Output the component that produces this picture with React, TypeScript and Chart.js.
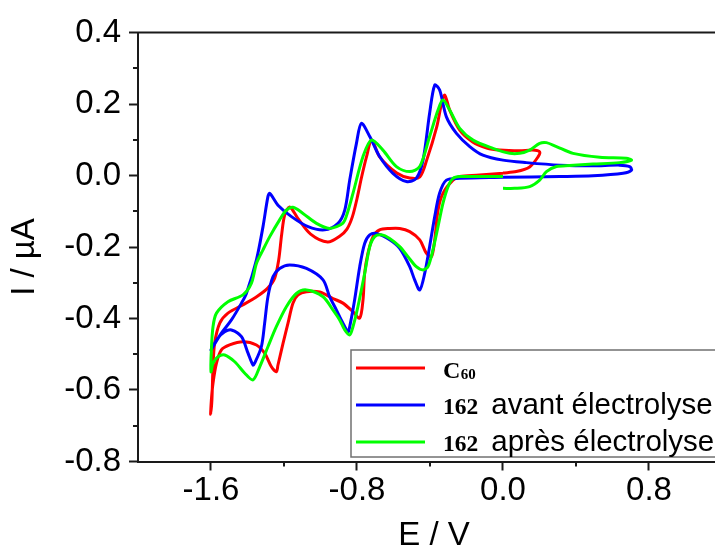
import React, { useEffect, useRef } from 'react';
import { Chart, registerables } from 'chart.js';

Chart.register(...registerables);

// ---- data (E / V, I / µA), in scan order ----
const redE = [
  0.0, -0.146, -0.237, -0.274, -0.329, -0.356, -0.374, -0.392, -0.42, -0.456, -0.511, -0.566, -0.621, -0.676,
  -0.712, -0.74, -0.758, -0.767, -0.785, -0.822, -0.877, -0.932, -1.004, -1.077, -1.123, -1.151, -1.178, -1.205,
  -1.233, -1.242, -1.269, -1.306, -1.351, -1.425, -1.498, -1.543, -1.57, -1.589, -1.598, -1.602,
  -1.595, -1.589, -1.58, -1.552, -1.507, -1.415, -1.344, -1.289, -1.251, -1.229, -1.213, -1.196, -1.169, -1.125,
  -1.054, -0.961, -0.895, -0.855, -0.825, -0.8, -0.775, -0.748, -0.719, -0.676, -0.582, -0.511, -0.456, -0.418,
  -0.363, -0.336, -0.319, -0.292, -0.237, -0.166, -0.089, -0.018, 0.092, 0.163, 0.201, 0.192, 0.146, 0.073, 0.0,
];
const redI = [
  0.006, 0.001, -0.003, -0.013, -0.05, -0.097, -0.18, -0.227, -0.217, -0.18, -0.157, -0.148, -0.148, -0.152,
  -0.171, -0.218, -0.274, -0.348, -0.399, -0.381, -0.357, -0.344, -0.326, -0.325, -0.334, -0.357, -0.413, -0.469,
  -0.53, -0.549, -0.535, -0.497, -0.474, -0.465, -0.474, -0.488, -0.525, -0.581, -0.628, -0.668,
  -0.628, -0.535, -0.469, -0.413, -0.385, -0.359, -0.337, -0.315, -0.287, -0.236, -0.166, -0.11, -0.088, -0.119,
  -0.164, -0.186, -0.17, -0.15, -0.115, -0.065, -0.005, 0.052, 0.099, 0.052, 0.007, -0.007, -0.004, 0.043,
  0.136, 0.203, 0.225, 0.183, 0.127, 0.094, 0.077, 0.071, 0.069, 0.071, 0.066, 0.052, 0.024, 0.011, 0.007,
];

const blueE = [
  0.0, -0.237, -0.31, -0.347, -0.374, -0.402, -0.429, -0.456, -0.484, -0.511, -0.566, -0.621, -0.694, -0.73,
  -0.758, -0.785, -0.813, -0.84, -0.849, -0.877, -0.913, -0.95, -0.986, -1.077, -1.169, -1.224, -1.26, -1.288,
  -1.306, -1.324, -1.361, -1.37, -1.397, -1.433, -1.488, -1.525, -1.562, -1.6,
  -1.543, -1.488, -1.433, -1.406, -1.351, -1.315, -1.288, -1.278, -1.233, -1.159, -1.068, -0.977, -0.904, -0.867,
  -0.84, -0.803, -0.776, -0.73, -0.676, -0.603, -0.529, -0.475, -0.438, -0.402, -0.374, -0.347, -0.31, -0.255,
  -0.182, -0.11, 0.0, 0.128, 0.311, 0.493, 0.639, 0.694, 0.704, 0.658, 0.493, 0.311, 0.0,
];
const blueI = [
  -0.005, -0.008, -0.013, -0.049, -0.115, -0.199, -0.274, -0.32, -0.292, -0.255, -0.204, -0.18, -0.162, -0.166,
  -0.19, -0.255, -0.348, -0.423, -0.437, -0.413, -0.376, -0.339, -0.292, -0.26, -0.25, -0.26, -0.283, -0.339,
  -0.413, -0.479, -0.525, -0.53, -0.497, -0.451, -0.432, -0.437, -0.455, -0.488,
  -0.441, -0.404, -0.357, -0.33, -0.236, -0.143, -0.059, -0.05, -0.083, -0.115, -0.143, -0.152, -0.134, -0.097,
  -0.013, 0.09, 0.146, 0.109, 0.053, 0.006, -0.017, -0.008, 0.043, 0.174, 0.253, 0.239, 0.164, 0.118,
  0.081, 0.057, 0.043, 0.036, 0.029, 0.027, 0.029, 0.025, 0.015, 0.006, -0.001, -0.003, -0.005,
];

const greenE = [
  0.0, -0.237, -0.274, -0.301, -0.329, -0.356, -0.384, -0.411, -0.438, -0.475, -0.521, -0.566, -0.621, -0.666,
  -0.703, -0.73, -0.758, -0.795, -0.822, -0.84, -0.867, -0.895, -0.932, -0.986, -1.077, -1.132, -1.187, -1.242,
  -1.288, -1.333, -1.37, -1.415, -1.47, -1.525, -1.562, -1.589, -1.6,
  -1.598, -1.589, -1.57, -1.507, -1.425, -1.379, -1.351, -1.315, -1.278, -1.224, -1.187, -1.151, -1.096, -1.022,
  -0.95, -0.877, -0.851, -0.822, -0.767, -0.721, -0.658, -0.584, -0.511, -0.456, -0.402, -0.356, -0.329, -0.292,
  -0.237, -0.164, -0.055, 0.037, 0.092, 0.146, 0.201, 0.238, 0.293, 0.384, 0.53, 0.676, 0.704, 0.639, 0.493,
  0.365, 0.293, 0.238, 0.201, 0.146, 0.064, 0.0,
];
const greenI = [
  -0.003, -0.003, -0.008, -0.031, -0.078, -0.143, -0.208, -0.255, -0.264, -0.255, -0.227, -0.199, -0.176, -0.166,
  -0.171, -0.199, -0.274, -0.367, -0.423, -0.446, -0.432, -0.404, -0.376, -0.339, -0.32, -0.33, -0.367, -0.423,
  -0.479, -0.535, -0.572, -0.553, -0.521, -0.502, -0.507, -0.525, -0.549,
  -0.488, -0.423, -0.385, -0.353, -0.334, -0.302, -0.246, -0.208, -0.171, -0.124, -0.097, -0.089, -0.106, -0.134,
  -0.148, -0.133, -0.102, -0.05, 0.053, 0.099, 0.071, 0.025, 0.011, 0.025, 0.109, 0.183, 0.211, 0.183,
  0.132, 0.099, 0.076, 0.062, 0.062, 0.071, 0.09, 0.092, 0.081, 0.062, 0.051, 0.048, 0.043, 0.036, 0.032,
  0.028, 0.025, 0.011, -0.013, -0.031, -0.036, -0.036,
];

const seriesLabels = ['C60', '162 avant électrolyse', '162 après électrolyse'];
const seriesColors = ['#ff0000', '#0000ff', '#00ff00'];

const xMajorTicks = [-1.6, -0.8, 0.0, 0.8];
const xMinorTicks = [-1.2, -0.4, 0.4, 1.2];
const yMajorTicks = [-0.8, -0.6, -0.4, -0.2, 0.0, 0.2, 0.4];
const yMinorTicks = [-0.7, -0.5, -0.3, -0.1, 0.1, 0.3];

const xTitle = 'E / V';
const yTitle = 'I / µA';

const SANS = 'Arial, "Liberation Sans", sans-serif';
const SERIF = '"Times New Roman", "Liberation Serif", serif';
const AXIS_COLOR = '#1a1a1a';

const toPoints = (xs: number[], ys: number[]) => xs.map((x, i) => ({ x, y: ys[i] }));

const framePlugin = {
  id: 'frameAndMinorTicks',
  afterDraw(chart: any) {
    const { ctx, chartArea } = chart;
    const xs = chart.scales.x;
    const ys = chart.scales.y;
    ctx.save();
    ctx.strokeStyle = AXIS_COLOR;
    ctx.lineWidth = 2;
    ctx.beginPath();
    ctx.moveTo(chartArea.left - 1, chartArea.top);
    ctx.lineTo(chart.width, chartArea.top);
    ctx.stroke();
    ctx.beginPath();
    xMinorTicks.forEach((v) => {
      const px = Math.round(xs.getPixelForValue(v));
      ctx.moveTo(px, chartArea.bottom);
      ctx.lineTo(px, chartArea.bottom + 5);
    });
    yMinorTicks.forEach((v) => {
      const py = Math.round(ys.getPixelForValue(v));
      ctx.moveTo(chartArea.left, py);
      ctx.lineTo(chartArea.left - 5, py);
    });
    ctx.stroke();

    // y axis title
    ctx.fillStyle = '#000';
    ctx.font = `33px ${SANS}`;
    ctx.textAlign = 'center';
    ctx.textBaseline = 'middle';
    ctx.translate(25, 257);
    ctx.rotate(-Math.PI / 2);
    ctx.fillText(yTitle, 0, 0);
    ctx.restore();
  },
};

const legendPlugin = {
  id: 'cvLegend',
  afterDraw(chart: any) {
    const { ctx } = chart;
    const left = 351;
    const top = 350;
    const bottom = 457;
    const right = chart.width + 10;
    ctx.save();
    ctx.fillStyle = '#ffffff';
    ctx.fillRect(left, top, right - left, bottom - top);
    ctx.strokeStyle = '#707070';
    ctx.lineWidth = 1.5;
    ctx.strokeRect(left, top, right - left, bottom - top);
    chart.data.datasets.forEach((ds: any, i: number) => {
      const y = 368 + i * 37;
      ctx.strokeStyle = ds.borderColor;
      ctx.lineWidth = 3;
      ctx.beginPath();
      ctx.moveTo(356, y);
      ctx.lineTo(425, y);
      ctx.stroke();

      const label: string = ds.label;
      const sp = label.indexOf(' ');
      const head = sp < 0 ? label : label.slice(0, sp);
      const rest = sp < 0 ? '' : label.slice(sp + 1);
      ctx.fillStyle = '#000';
      ctx.textBaseline = 'alphabetic';
      ctx.textAlign = 'left';
      const m = head.match(/^([A-Za-z]+)(\d+)$/);
      let x = 443;
      if (m) {
        ctx.font = `bold 24px ${SERIF}`;
        ctx.fillText(m[1], x, y + 10);
        x += ctx.measureText(m[1]).width + 0.5;
        ctx.font = `bold 15px ${SERIF}`;
        ctx.fillText(m[2], x, y + 11);
      } else {
        ctx.font = `bold 23.5px ${SERIF}`;
        ctx.fillText(head, x, y + 8.5);
        x += ctx.measureText(head).width + 13;
        ctx.font = `29.5px ${SANS}`;
        ctx.fillText(rest, x, y + 8.5);
      }
    });
    ctx.restore();
  },
};

export default function App() {
  const ref = useRef<HTMLCanvasElement>(null);

  useEffect(() => {
    if (!ref.current) return;
    const series = [
      toPoints(redE, redI),
      toPoints(blueE, blueI),
      toPoints(greenE, greenI),
    ];
    const chart = new Chart(ref.current, {
      type: 'scatter',
      data: {
        datasets: series.map((pts, i) => ({
          label: seriesLabels[i],
          data: pts,
          showLine: true,
          borderColor: seriesColors[i],
          backgroundColor: seriesColors[i],
          borderWidth: 3,
          pointRadius: 0,
          pointHoverRadius: 0,
          tension: 0.3,
          order: 2 - i,
        })),
      },
      options: {
        animation: false,
        responsive: false,
        events: [],
        layout: { padding: { top: 32.5, right: 0, left: 0, bottom: 0 } },
        plugins: {
          legend: { display: false },
          tooltip: { enabled: false },
        },
        scales: {
          x: {
            type: 'linear',
            min: -2.0,
            max: 1.244,
            afterBuildTicks: (s: any) => {
              s.ticks = xMajorTicks.map((v) => ({ value: v }));
            },
            afterFit: (s: any) => {
              s.height = 87.5;
            },
            ticks: {
              callback: (v: any) => Number(v).toFixed(1),
              font: { family: SANS, size: 33, lineHeight: 1 },
              color: '#000',
              padding: 4,
              maxRotation: 0,
              autoSkip: false,
            },
            grid: {
              drawOnChartArea: false,
              drawTicks: true,
              tickLength: 9,
              tickWidth: 2,
              tickColor: AXIS_COLOR,
            },
            border: { display: true, color: AXIS_COLOR, width: 2 },
            title: {
              display: true,
              text: xTitle,
              font: { family: SANS, size: 33, lineHeight: 1 },
              color: '#000',
              padding: { top: 0, bottom: -3 },
            },
          },
          y: {
            type: 'linear',
            min: -0.8,
            max: 0.4,
            afterBuildTicks: (s: any) => {
              s.ticks = yMajorTicks.map((v) => ({ value: v }));
            },
            afterFit: (s: any) => {
              s.width = 138;
            },
            ticks: {
              callback: (v: any) => Number(v).toFixed(1),
              font: { family: SANS, size: 33, lineHeight: 1 },
              color: '#000',
              padding: 8,
              autoSkip: false,
            },
            grid: {
              drawOnChartArea: false,
              drawTicks: true,
              tickLength: 9,
              tickWidth: 2,
              tickColor: AXIS_COLOR,
            },
            border: { display: true, color: AXIS_COLOR, width: 2 },
            title: { display: false },
          },
        },
      },
      plugins: [framePlugin, legendPlugin],
    } as any);
    return () => chart.destroy();
  }, []);

  return (
    <div
      style={{
        position: 'fixed',
        left: 0,
        top: 0,
        width: 715,
        height: 549,
        overflow: 'hidden',
        background: '#ffffff',
      }}
    >
      <canvas ref={ref} width={730} height={549} style={{ display: 'block', width: 730, height: 549 }} />
    </div>
  );
}
